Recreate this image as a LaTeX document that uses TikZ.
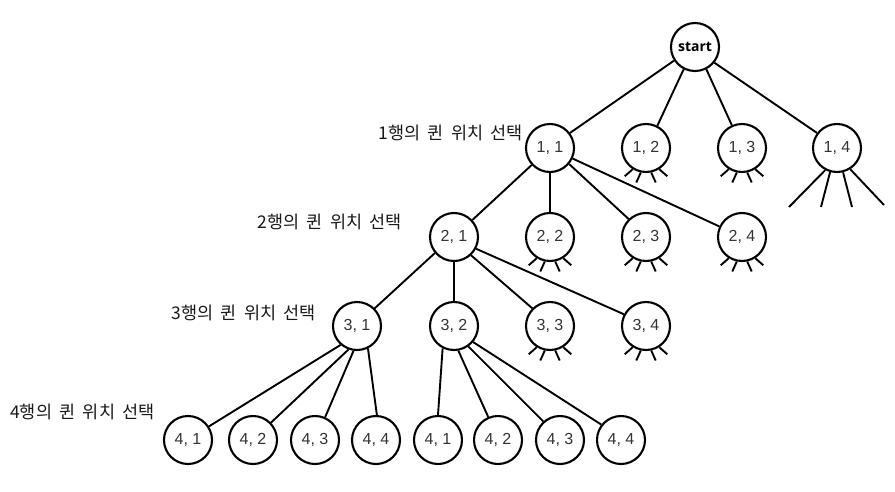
\documentclass[tikz,border=0pt]{standalone}
\usepackage{fontspec}
\setmainfont{Liberation Sans}
\newfontfamily\kr{Noto Sans CJK KR}
\newfontfamily\bold{Open Sans}
\newcommand\wsp{\hspace{0.42em}}
\begin{document}
\begin{tikzpicture}[x=1pt,y=-1pt,
  st/.style={circle,draw,line width=2.1pt,minimum size=48pt,inner sep=0pt,
     font=\fontsize{16}{16}\selectfont,text=black!80},
  lab/.style={font=\kr\fontsize{17.5}{18}\selectfont,text=black!90,inner sep=0pt},
  ed/.style={line width=1.9pt}]
\useasboundingbox (0,0) rectangle (895,491);
\node[st,font=\bold\bfseries\fontsize{14}{15}\selectfont,text=black] (s) at (695,47) {start};
\node[st] (n11) at (550,148) {1, 1};
\node[st] (n12) at (646,148) {1, 2};
\node[st] (n13) at (742,148) {1, 3};
\node[st] (n14) at (837,148) {1, 4};
\node[st] (n21) at (454,237) {2, 1};
\node[st] (n22) at (550,237) {2, 2};
\node[st] (n23) at (646,237) {2, 3};
\node[st] (n24) at (742,237) {2, 4};
\node[st] (n31) at (357,326) {3, 1};
\node[st] (n32) at (454,326) {3, 2};
\node[st] (n33) at (550,326) {3, 3};
\node[st] (n34) at (646,326) {3, 4};
\node[st] (a1) at (188,440) {4, 1};
\node[st] (a2) at (253,440) {4, 2};
\node[st] (a3) at (315,440) {4, 3};
\node[st] (a4) at (376,440) {4, 4};
\node[st] (b1) at (438,440) {4, 1};
\node[st] (b2) at (498,440) {4, 2};
\node[st] (b3) at (560,440) {4, 3};
\node[st] (b4) at (621,440) {4, 4};
\node[lab,anchor=east] (l1) at (523,133) {1행의\wsp 퀸\wsp 위치\wsp 선택};
\node[lab,anchor=east] (l2) at (402,222) {2행의\wsp 퀸\wsp 위치\wsp 선택};
\node[lab,anchor=east] (l3) at (316,313) {3행의\wsp 퀸\wsp 위치\wsp 선택};
\node[lab,anchor=west] (l4) at (10,412) {4행의\wsp 퀸\wsp 위치\wsp 선택};
\begin{scope}[ed]
\draw (s.213) -- (n11.37);
\draw (s.243) -- (n12.63);
\draw (s.297) -- (n13.114);
\draw (s.321) -- (n14.143);
\draw (n11) -- (n21);
\draw (n11.270) -- (n22.90);
\draw (n11.320) -- (n23.134);
\draw (n11.335) -- (n24.155);
\draw (n21.220) -- (n31.45);
\draw (n21.270) -- (n32.90);
\draw (n21.313) -- (n33.135);
\draw (n21.332) -- (n34.152);
\draw (n31.229) -- (a1.33);
\draw (n31.250) -- (a2.44);
\draw (n31.262) -- (a3.66);
\draw (n31.296) -- (a4.88);
\draw (n32.243) -- (b1.90);
\draw (n32.280) -- (b2.113);
\draw (n32.305) -- (b3.132);
\draw (n32.320) -- (b4.142);
\foreach \n in {n12,n13,n22,n23,n24,n33,n34}{
  \draw (\n.238) -- ++(-8,7);
  \draw (\n.258) -- ++(-4.5,10);
  \draw (\n.282) -- ++(4.5,10);
  \draw (\n.302) -- ++(8,7);
}
\coordinate (e1) at (789,207);
\coordinate (e2) at (821,207);
\coordinate (e3) at (852,207);
\coordinate (e4) at (884,205);
\draw (n14.242) -- (e1);
\draw (n14.254) -- (e2);
\draw (n14.284) -- (e3);
\draw (n14.302) -- (e4);
\end{scope}
\end{tikzpicture}
\end{document}
